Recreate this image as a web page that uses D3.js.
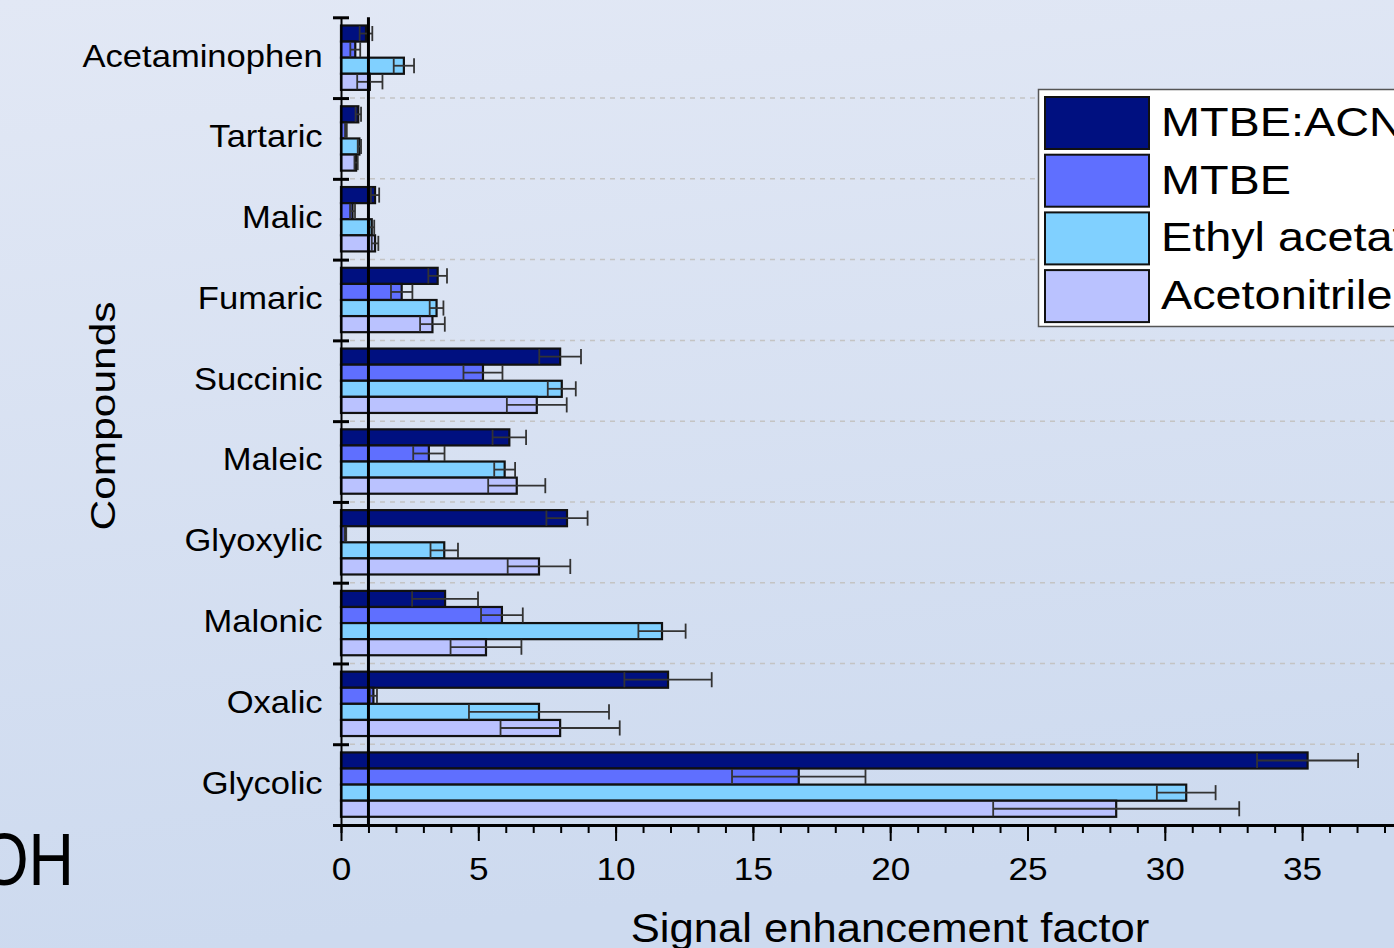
<!DOCTYPE html>
<html>
<head>
<meta charset="utf-8">
<script src="https://cdn.jsdelivr.net/npm/d3@7"></script>
<style>
    html, body { margin: 0; padding: 0; overflow: hidden; }
    svg { display: block; font-family: "Liberation Sans", Arial, sans-serif; }
</style>
</head>
<body>
<div id="chart"></div>
<script>
// Categories, top to bottom
const compounds = ['Acetaminophen', 'Tartaric', 'Malic', 'Fumaric', 'Succinic',
    'Maleic', 'Glyoxylic', 'Malonic', 'Oxalic', 'Glycolic'];
const solvents = ['MTBE:ACN', 'MTBE', 'Ethyl acetate', 'Acetonitrile'];
const solventColors = ['#001080', '#5f6fff', '#80d0ff', '#bac2ff'];

// Signal enhancement factor (value, error) per solvent
const mtbeAcn    = [0.91, 0.63, 1.24, 3.52, 7.98, 6.13, 8.23, 3.79, 11.91, 35.2];
const mtbeAcnErr = [0.23, 0.10, 0.15, 0.34, 0.76, 0.61, 0.75, 1.20, 1.59, 1.84];
const mtbe       = [0.52, 0.18, 0.42, 2.21, 5.17, 3.20, 0.16, 5.86, 1.18, 16.67];
const mtbeErr    = [0.18, 0.03, 0.09, 0.39, 0.71, 0.57, 0.03, 0.76, 0.13, 2.43];
const ethyl      = [2.29, 0.67, 1.12, 3.48, 8.04, 5.96, 3.76, 11.69, 7.21, 30.78];
const ethylErr   = [0.37, 0.06, 0.09, 0.25, 0.51, 0.38, 0.50, 0.86, 2.55, 1.07];
const acn        = [1.05, 0.55, 1.24, 3.33, 7.13, 6.40, 7.21, 5.28, 7.98, 28.23];
const acnErr     = [0.46, 0.06, 0.12, 0.45, 1.09, 1.04, 1.14, 1.29, 2.17, 4.48];

const seriesValues = [mtbeAcn, mtbe, ethyl, acn];
const seriesErrors = [mtbeAcnErr, mtbeErr, ethylErr, acnErr];

const xMajorTicks = [0, 5, 10, 15, 20, 25, 30, 35];
const xMinorTicks = d3.range(0, 41, 1);
const referenceValue = 1;

const W = 1394, H = 948;

const svg = d3.select('#chart').append('svg')
    .attr('width', W)
    .attr('height', H);

// Slide background
const defs = svg.append('defs');
const grad = defs.append('linearGradient')
    .attr('id', 'bg')
    .attr('x1', 0).attr('y1', 0).attr('x2', 0.15).attr('y2', 1);
grad.append('stop').attr('offset', '0%').attr('stop-color', '#e2e8f5');
grad.append('stop').attr('offset', '100%').attr('stop-color', '#cddaef');
svg.append('rect').attr('width', W).attr('height', H).attr('fill', 'url(#bg)');

// Scales
const x = d3.scaleLinear().domain([0, 40]).range([341, 341 + 40 * 27.46]);
const yBand = d3.scaleBand().domain(compounds).range([17.3, 825]).padding(0);
const yEdge = d3.scaleLinear().domain([0, compounds.length]).range([17.3, 825]);
const yInner = d3.scaleBand().domain(solvents)
    .range([8.2, yBand.bandwidth() - 8.2]).padding(0);

// Dashed separators between groups
svg.append('g')
    .selectAll('line')
    .data(d3.range(1, compounds.length))
    .join('line')
    .attr('x1', 350).attr('x2', W)
    .attr('y1', d => yEdge(d)).attr('y2', d => yEdge(d))
    .attr('stroke', '#c4c4c4')
    .attr('stroke-width', 1.5)
    .attr('stroke-dasharray', '5,5');

// Flatten rows
const rows = [];
compounds.forEach((c, i) => {
    solvents.forEach((s, j) => {
        rows.push({ compound: c, solvent: s, idx: j,
            value: seriesValues[j][i], err: seriesErrors[j][i] });
    });
});

// Bars
svg.append('g')
    .selectAll('rect')
    .data(rows)
    .join('rect')
    .attr('x', x(0))
    .attr('y', d => yBand(d.compound) + yInner(d.solvent))
    .attr('width', d => x(d.value) - x(0))
    .attr('height', yInner.bandwidth())
    .attr('fill', d => solventColors[d.idx])
    .attr('stroke', '#111')
    .attr('stroke-width', 2.2);

// Error bars
const eb = svg.append('g')
    .attr('stroke', '#333')
    .attr('stroke-width', 1.8);
const half = yInner.bandwidth() / 2 - 0.5;
rows.forEach(d => {
    const cy = yBand(d.compound) + yInner(d.solvent) + yInner.bandwidth() / 2;
    const lo = x(Math.max(0, d.value - d.err));
    const hi = x(d.value + d.err);
    eb.append('line').attr('x1', lo).attr('x2', hi).attr('y1', cy).attr('y2', cy);
    eb.append('line').attr('x1', lo).attr('x2', lo).attr('y1', cy - half).attr('y2', cy + half);
    eb.append('line').attr('x1', hi).attr('x2', hi).attr('y1', cy - half).attr('y2', cy + half);
});

// Reference line at factor = 1
svg.append('line')
    .attr('x1', x(referenceValue)).attr('x2', x(referenceValue))
    .attr('y1', 17.3).attr('y2', 826)
    .attr('stroke', '#000')
    .attr('stroke-width', 3);

// X axis: minor ticks
svg.append('g')
    .attr('transform', 'translate(0,825)')
    .call(d3.axisBottom(x).tickValues(xMinorTicks).tickSize(8).tickFormat('').tickSizeOuter(0))
    .call(g => g.select('.domain').attr('stroke', '#000').attr('stroke-width', 3))
    .call(g => g.selectAll('.tick line').attr('stroke', '#000').attr('stroke-width', 2));

// X axis: major ticks with labels
svg.append('g')
    .attr('transform', 'translate(0,825)')
    .call(d3.axisBottom(x).tickValues(xMajorTicks).tickSize(16).tickFormat(d3.format('d')).tickSizeOuter(0))
    .call(g => g.select('.domain').remove())
    .call(g => g.selectAll('.tick line').attr('stroke', '#000').attr('stroke-width', 2))
    .call(g => g.selectAll('.tick text')
        .attr('y', 55).attr('dy', 0)
        .attr('transform', 'scale(1.1,1)')
        .attr('fill', '#000')
        .style('font-size', '32px')
        .style('font-family', '"Liberation Sans", Arial, sans-serif'));

// Y axis: boundary ticks crossing the axis
svg.append('g')
    .attr('transform', `translate(${x(0)},0)`)
    .call(d3.axisLeft(yEdge).tickValues(d3.range(0, compounds.length + 1)).tickSize(8).tickFormat('').tickSizeOuter(0))
    .call(g => g.select('.domain').attr('stroke', '#000').attr('stroke-width', 2))
    .call(g => g.selectAll('.tick line').attr('x1', 8).attr('stroke', '#000').attr('stroke-width', 3));

// Y axis: category labels
svg.append('g')
    .attr('transform', `translate(${x(0)},0)`)
    .call(d3.axisLeft(yBand).tickSize(0).tickPadding(17))
    .call(g => g.select('.domain').remove())
    .call(g => g.selectAll('.tick text')
        .attr('dy', '0.28em')
        .attr('transform', 'scale(1.08,1)')
        .attr('fill', '#000')
        .style('font-size', '32px')
        .style('font-family', '"Liberation Sans", Arial, sans-serif'));

// Axis titles
svg.append('text')
    .attr('transform', 'translate(890,942) scale(1.09,1)')
    .attr('text-anchor', 'middle')
    .style('font-size', '40px')
    .text('Signal enhancement factor');

svg.append('text')
    .attr('transform', 'translate(115,416) rotate(-90) scale(1.18,1)')
    .attr('text-anchor', 'middle')
    .style('font-size', '36px')
    .text('Compounds');

// Leftover slide text
svg.append('text')
    .attr('transform', 'translate(74,885) scale(0.85,1)')
    .attr('text-anchor', 'end')
    .style('font-size', '74px')
    .text('OH');

// Legend
const legend = svg.append('g');
legend.append('rect')
    .attr('x', 1038.5).attr('y', 89.5)
    .attr('width', 400).attr('height', 237)
    .attr('fill', '#fff')
    .attr('stroke', '#555')
    .attr('stroke-width', 1.5);
solvents.forEach((s, i) => {
    const top = 97 + i * 57.7;
    legend.append('rect')
        .attr('x', 1045).attr('y', top)
        .attr('width', 104).attr('height', 52)
        .attr('fill', solventColors[i])
        .attr('stroke', '#111')
        .attr('stroke-width', 2);
    legend.append('text')
        .attr('transform', `translate(1161,${top + 39}) scale(1.17,1)`)
        .style('font-size', '40px')
        .text(s);
});
</script>
</body>
</html>
